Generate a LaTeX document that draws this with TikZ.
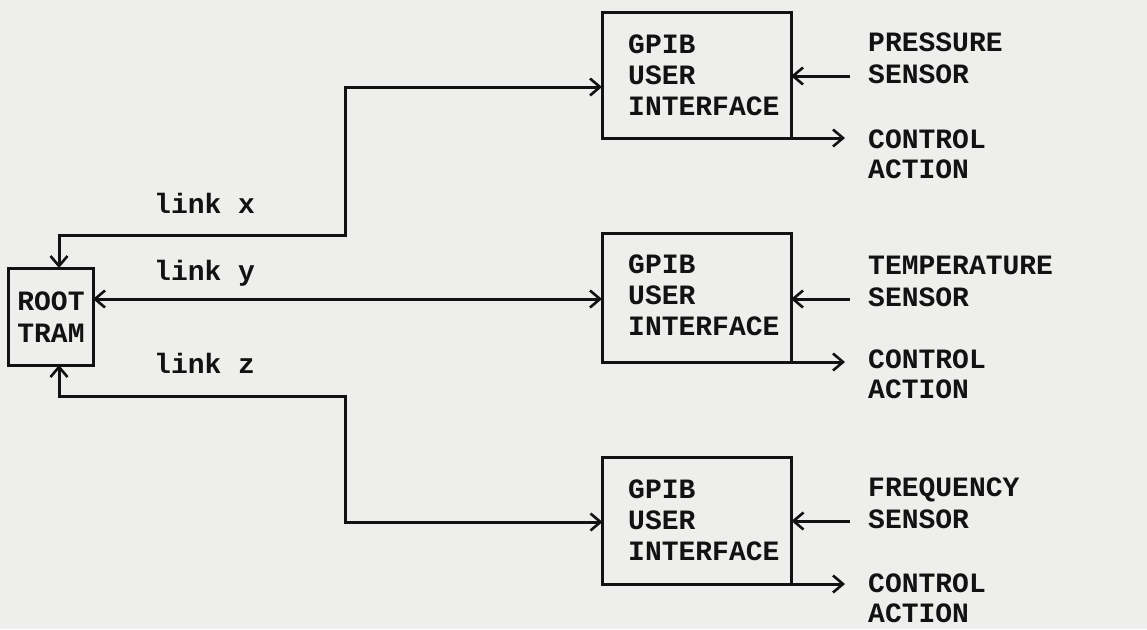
\documentclass[tikz,border=0pt]{standalone}
\usepackage{fontspec}
\setmonofont{Liberation Mono}
\usetikzlibrary{arrows.meta,calc}
\definecolor{paper}{RGB}{238,238,236}
\definecolor{ink}{RGB}{18,18,18}
\tikzset{
  tip/.tip={Straight Barb[length=10pt,width=17pt,line width=2.6pt]},
  wire/.style={draw=ink, line width=3pt, line join=miter},
  arr/.style={wire, -tip},
  darr/.style={wire, tip-tip},
  blk/.style={draw=ink, line width=3pt, rectangle, inner sep=0pt, outer sep=0pt},
  txt/.style={font=\ttfamily\bfseries\fontsize{28}{31}\selectfont, text=ink, inner sep=0pt, align=left},
  wide/.style={font=\ttfamily\bfseries\fontsize{28}{32}\selectfont},
  tight/.style={font=\ttfamily\bfseries\fontsize{28}{30}\selectfont},
}
\begin{document}
\begin{tikzpicture}[x=1pt,y=-1pt]
  % page
  \fill[paper] (0,0) rectangle (1147,629);
  \useasboundingbox (0,0) rectangle (1147,629);

  % root transputer
  \node[blk, minimum width=85pt, minimum height=97pt] (root) at (50.5,316.5) {};
  \node[txt, wide, align=center, anchor=base] (roott) at (51,342) {ROOT\\TRAM};

  % three GPIB interface boxes
  \node[blk, minimum width=189pt, minimum height=126pt] (g1) at (696.5,75) {};
  \node[blk, minimum width=189pt, minimum height=129pt] (g2) at (696.5,297.5) {};
  \node[blk, minimum width=189pt, minimum height=127pt] (g3) at (697,520.5) {};

  % multi-line labels are placed by the baseline of their last line
  \node[txt, anchor=base west] (g1t) at (628,115) {GPIB\\USER\\INTERFACE};
  \node[txt, anchor=base west] (g2t) at (628,335) {GPIB\\USER\\INTERFACE};
  \node[txt, anchor=base west] (g3t) at (628,560) {GPIB\\USER\\INTERFACE};

  % sensor and action labels
  \node[txt, wide, anchor=base west] (s1) at (868,83) {PRESSURE\\SENSOR};
  \node[txt, wide, anchor=base west] (s2) at (868,306) {TEMPERATURE\\SENSOR};
  \node[txt, wide, anchor=base west] (s3) at (868,528) {FREQUENCY\\SENSOR};
  \node[txt, tight, anchor=base west] (a1) at (868,178) {CONTROL\\ACTION};
  \node[txt, tight, anchor=base west] (a2) at (868,398) {CONTROL\\ACTION};
  \node[txt, tight, anchor=base west] (a3) at (868,622) {CONTROL\\ACTION};

  % link labels
  \node[txt, anchor=base west] (lx) at (154,213) {link x};
  \node[txt, anchor=base west] (ly) at (154,280) {link y};
  \node[txt, anchor=base west] (lz) at (154,373) {link z};

  % sensor inputs and control outputs
  \coordinate (i1) at (850,76);
  \coordinate (i2) at (850,299);
  \coordinate (i3) at (850,521);
  \draw[arr] (i1) -- (i1 -| g1.east);
  \draw[arr] (i2) -- (i2 -| g2.east);
  \draw[arr] (i3) -- (i3 -| g3.east);
  \coordinate (o1) at (845,138);
  \coordinate (o2) at (845,362);
  \coordinate (o3) at (845,584);
  \draw[arr] (g1.south east) -- (o1);
  \draw[arr] (g2.south east) -- (o2);
  \draw[arr] (g3.south east) -- (o3);

  % links from the root transputer
  \coordinate (bx) at (345,235);
  \coordinate (bz) at (345,396);
  \draw[darr] ([xshift=8.5pt]root.north) |- (bx) |- (g1.west |- 0,87);
  \draw[darr] (root.east |- 0,299) -- (g2.west |- 0,299);
  \draw[darr] ([xshift=8.5pt]root.south) |- (bz) |- (g3.west |- 0,522);
\end{tikzpicture}
\end{document}
